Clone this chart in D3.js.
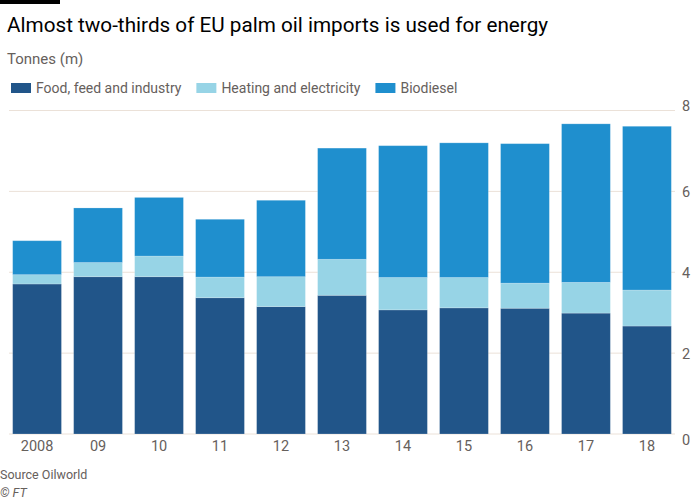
<!DOCTYPE html>
<html>
<head>
<meta charset="utf-8">
<script src="https://cdn.jsdelivr.net/npm/d3@7"></script>
<style>
  body { margin: 0; background: #fff; }
  svg { display: block; font-family: Roboto, "Noto Sans", sans-serif; }
</style>
</head>
<body>
<svg id="canvas" width="700" height="500"></svg>
<script>
let years = ['2008', '09', '10', '11', '12', '13', '14', '15', '16', '17', '18']
let food = [3.71, 3.89, 3.89, 3.37, 3.15, 3.43, 3.07, 3.12, 3.11, 2.99, 2.67]
let heating = [0.23, 0.35, 0.51, 0.51, 0.74, 0.89, 0.80, 0.75, 0.62, 0.76, 0.89]
let biodiesel = [0.84, 1.35, 1.45, 1.43, 1.89, 2.75, 3.26, 3.33, 3.45, 3.92, 4.05]
let seriesNames = ['Food, feed and industry', 'Heating and electricity', 'Biodiesel']
let seriesKeys = ['food', 'heating', 'biodiesel']
let colors = ['#215589', '#97d4e6', '#1f8fce']
let yTicks = [0, 2, 4, 6, 8]

let canvas = d3.select('#canvas')

let rows = years.map((y, i) => ({year: y, food: food[i], heating: heating[i], biodiesel: biodiesel[i]}))
let stacked = d3.stack().keys(seriesKeys)(rows)

let x = d3.scaleBand().domain(years).range([9, 675]).paddingInner(0.2).paddingOuter(0.06)
let y = d3.scaleLinear().domain([0, 8]).range([434, 110.5])

// header
canvas.append('rect').attr('x', 0).attr('y', 0).attr('width', 60).attr('height', 4).attr('fill', '#000')
canvas.append('text').attr('x', 7).attr('y', 32).attr('font-size', 20.7).attr('fill', '#000')
      .text('Almost two-thirds of EU palm oil imports is used for energy')
canvas.append('text').attr('x', 7).attr('y', 64).attr('font-size', 15).attr('fill', '#66605c')
      .text('Tonnes (m)')

// legend
let lx = 11
seriesNames.forEach((name, i) => {
   canvas.append('rect').attr('x', lx).attr('y', 83).attr('width', 20).attr('height', 10).attr('fill', colors[i])
   let t = canvas.append('text').attr('x', lx + 25).attr('y', 92.5).attr('font-size', 14)
                 .attr('fill', '#66605c').text(name)
   lx += 25 + t.node().getComputedTextLength() + 15
})

// grid + y axis on the right
let yAxis = d3.axisRight(y).tickValues(yTicks).tickSize(0).tickPadding(0)
let gy = canvas.append('g').attr('transform', 'translate(682,0)').call(yAxis)
gy.select('.domain').remove()
gy.selectAll('text').attr('font-size', 14.5).attr('fill', '#66605c').attr('font-family', 'Roboto, "Noto Sans", sans-serif')
  .attr('dy', (d) => d === 8 ? '0' : d === 0 ? '0.75em' : '0.35em')

canvas.append('g').selectAll('line')
      .data(yTicks)
      .enter()
      .append('line')
      .attr('x1', 9).attr('x2', 675)
      .attr('y1', (d) => y(d)).attr('y2', (d) => y(d))
      .attr('stroke', '#ebe1d8').attr('stroke-width', 1)

// bars
canvas.append('g').selectAll('g')
      .data(stacked)
      .enter()
      .append('g')
      .attr('fill', (d, i) => colors[i])
      .selectAll('rect')
      .data((d) => d)
      .enter()
      .append('rect')
      .attr('x', (d) => x(d.data.year))
      .attr('width', x.bandwidth())
      .attr('y', (d) => y(d[1]))
      .attr('height', (d) => y(d[0]) - y(d[1]))
      .attr('stroke', 'rgba(255,255,255,0.25)')
      .attr('stroke-width', 0.8)

// x axis labels
let xAxis = d3.axisBottom(x).tickSize(0).tickPadding(0)
let gx = canvas.append('g').attr('transform', 'translate(0,440)').call(xAxis)
gx.select('.domain').remove()
gx.selectAll('text').attr('font-size', 14.5).attr('fill', '#66605c').attr('font-family', 'Roboto, "Noto Sans", sans-serif')
  .attr('dy', '0.75em')

// footer
canvas.append('text').attr('x', 0).attr('y', 479).attr('font-size', 12.5).attr('fill', '#66605c').text('Source Oilworld')
canvas.append('text').attr('x', 0).attr('y', 497).attr('font-size', 12.5).attr('fill', '#66605c')
      .attr('font-style', 'italic').text('© FT')
</script>
</body>
</html>
